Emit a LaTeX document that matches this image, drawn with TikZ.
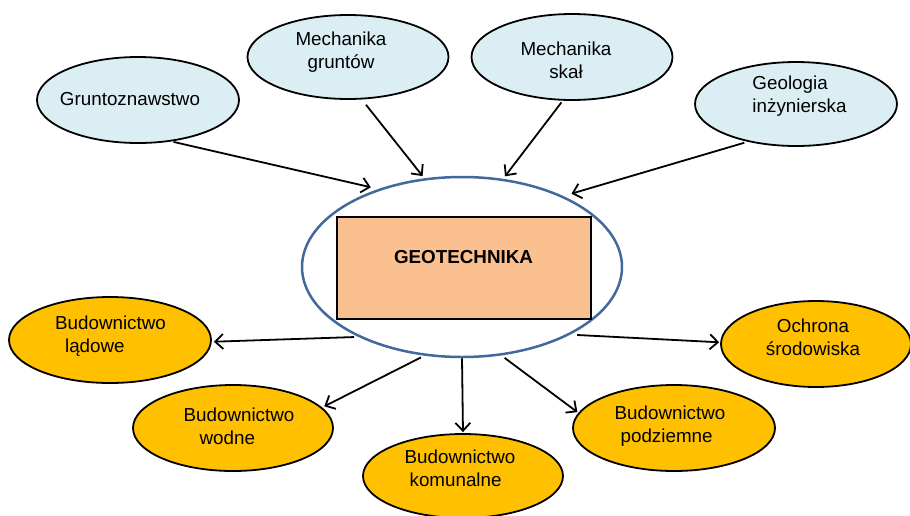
\documentclass[tikz,border=0pt]{standalone}
\usepackage{fontspec}
\setmainfont{Liberation Sans}
\usetikzlibrary{shapes.geometric,arrows.meta}
\definecolor{lblue}{HTML}{DAEEF3}
\definecolor{gold}{HTML}{FFC000}
\definecolor{peach}{HTML}{FAC090}
\definecolor{ringblue}{HTML}{41699E}
\tikzset{
  ell/.style={ellipse, draw=black, line width=1.8pt, inner sep=0pt},
  srcell/.style={ell, fill=lblue},
  dstell/.style={ell, fill=gold},
  lbl/.style={font=\fontsize{18.8}{23}\selectfont, inner sep=0pt},
  arr/.style={line width=1.8pt, -{Straight Barb[length=8pt,width=15pt,line width=1.8pt]}}
}
\begin{document}
\begin{tikzpicture}[x=1pt,y=-1pt]
\useasboundingbox (0,0) rectangle (910,515);
\clip (0,0) rectangle (910,515);
\fill[white] (0,0) rectangle (910,515);
% source ellipses
\node[srcell, minimum width=202, minimum height=86] (gr) at (138,100) {};
\node[srcell, minimum width=201, minimum height=84] (mg) at (348,57) {};
\node[srcell, minimum width=201, minimum height=86] (ms) at (572,57) {};
\node[srcell, minimum width=202, minimum height=84] (geo) at (796,104) {};
% centre
\node[ellipse, draw=ringblue, fill=white, line width=2.5pt, inner sep=0pt, minimum width=320, minimum height=180] (cen) at (462,267) {};
\node[draw=black, fill=peach, line width=1.8pt, minimum width=254, minimum height=102, inner sep=0pt] (box) at (464,268) {};
\node[lbl, font=\fontsize{18.8}{23}\selectfont\bfseries] (boxt) at (463.5,257) {GEOTECHNIKA};
% target ellipses
\node[dstell, minimum width=202, minimum height=86] (ld) at (110,340) {};
\node[dstell, minimum width=200, minimum height=86] (wd) at (233,428) {};
\node[dstell, minimum width=200, minimum height=84] (km) at (463,476) {};
\node[dstell, minimum width=202, minimum height=86] (pd) at (674,428) {};
\node[dstell, minimum width=190, minimum height=86] (oc) at (816,344) {};
% labels
\node[lbl] (grt) at (130,99) {Gruntoznawstwo};
\node[lbl, align=center] (mgt) at (341,52) {Mechanika\\gruntów};
\node[lbl, align=center] (mst) at (566,60) {Mechanika\\skał};
\node[lbl, align=left] (geot) at (799.5,96) {Geologia\\inżynierska};
\node[lbl, align=left] (ldt) at (110.5,336.5) {Budownictwo\\\hspace*{10pt}lądowe};
\node[lbl, align=left] (wdt) at (239,426.5) {Budownictwo\\\hspace*{16pt}wodne};
\node[lbl, align=left] (kmt) at (460,468.5) {Budownictwo\\\hspace*{5pt}komunalne};
\node[lbl, align=left] (pdt) at (670,426.5) {Budownictwo\\\hspace*{6pt}podziemne};
\node[lbl, align=center] (oct) at (813,337) {Ochrona\\środowiska};
% arrows in
\draw[arr, shorten <=2pt, shorten >=7.7pt] (gr.-51) -- (cen.137.3);
\draw[arr, shorten <=6.7pt, shorten >=2.8pt] (mg.-72.6) -- (cen.113.4);
\draw[arr, shorten <=2.2pt, shorten >=3.1pt] (ms.-102.5) -- (cen.65.5);
\draw[arr, shorten <=3.5pt, shorten >=8.5pt] (geo.-142.6) -- (cen.35.9);
% arrows out
\draw[arr, shorten <=4.3pt, shorten >=2pt] (cen.-146.4) -- (ld.-1.7);
\draw[arr, shorten <=3.8pt, shorten >=2.4pt] (cen.-113.2) -- (wd.13.9);
\draw[arr, shorten >=1pt] (cen.-90) -- (km.90);
\draw[arr, shorten <=4pt, shorten >=1.2pt] (cen.-66.3) -- (pd.171.1);
\draw[arr, shorten <=6.8pt, shorten >=1pt] (cen.-32.4) -- (oc.179.4);
\end{tikzpicture}
\end{document}
